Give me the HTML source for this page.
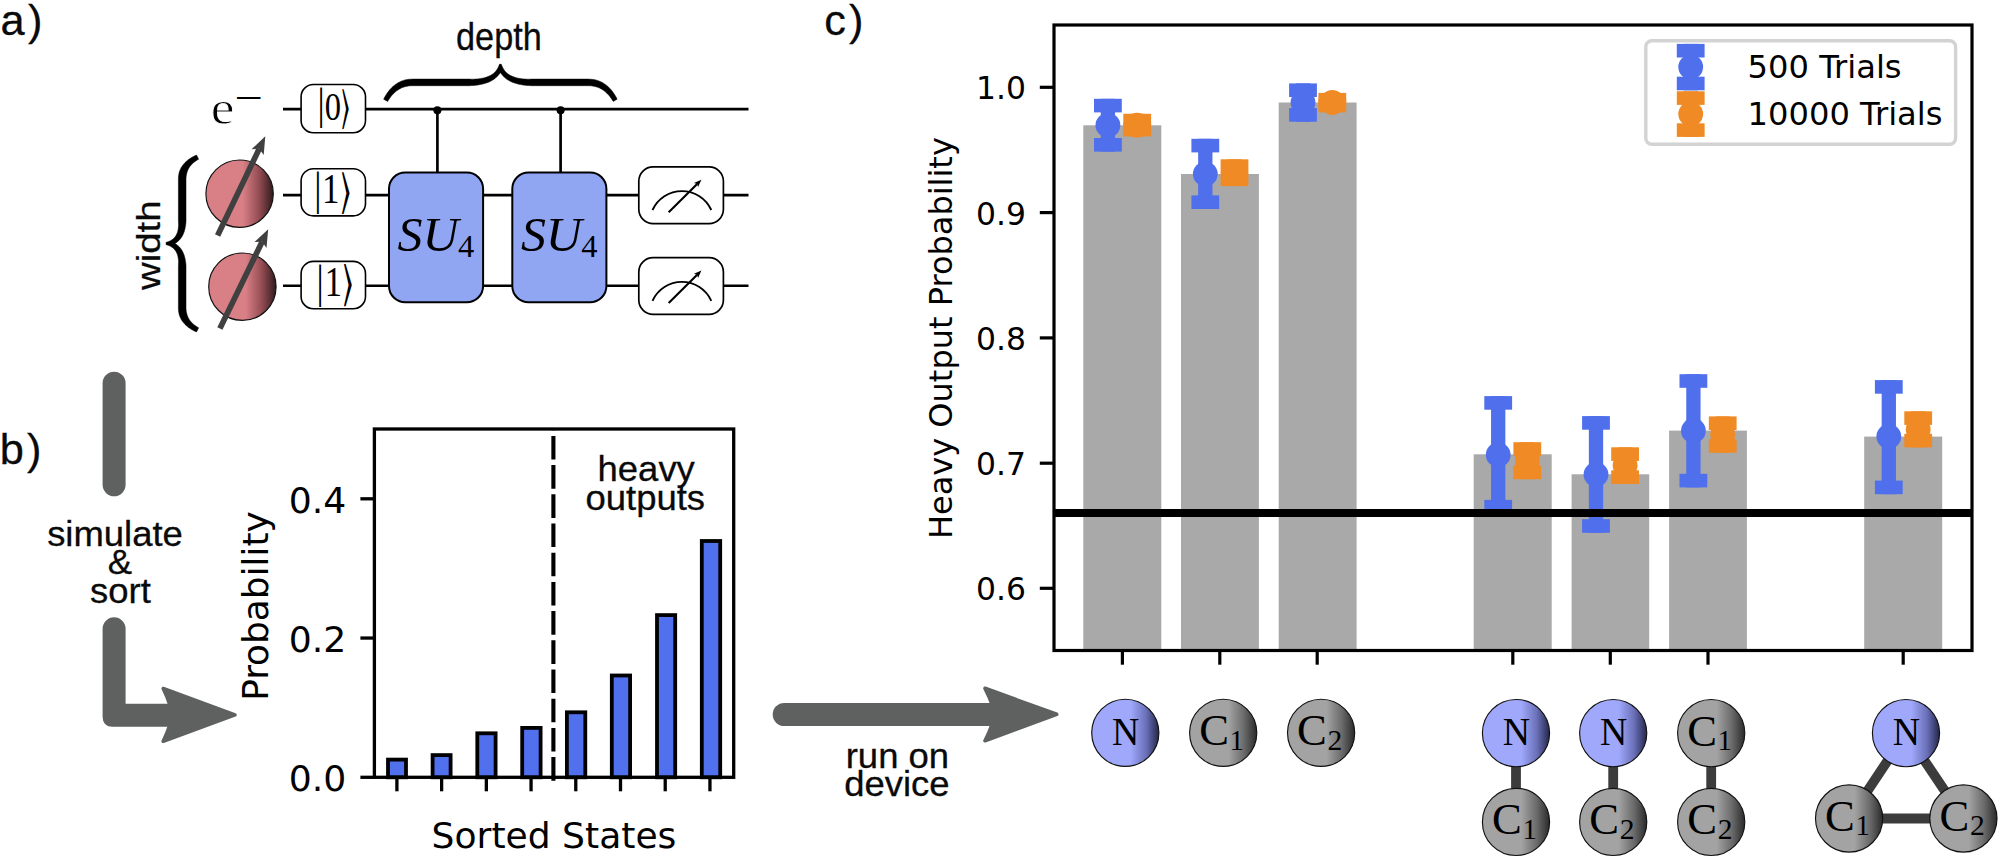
<!DOCTYPE html>
<html lang="en"><head><meta charset="utf-8"><title>Quantum volume figure</title>
<style>
html,body{margin:0;padding:0;background:#fff;}
body{width:2000px;height:859px;overflow:hidden;}
svg{display:block;}
.sans{font-family:"Liberation Sans", Arial, Helvetica, sans-serif;fill:#0a0a0a;stroke:#0a0a0a;stroke-width:0.3px;}
.djv{font-family:"DejaVu Sans", "Liberation Sans", sans-serif;fill:#000;}
.serif{font-family:"Liberation Serif", "DejaVu Serif", serif;fill:#000;}
.math{font-family:"DejaVu Math TeX Gyre","DejaVu Sans","DejaVu Serif",serif;fill:#000;}
</style></head><body>
<svg width="2000" height="859" viewBox="0 0 2000 859">
<defs>
<linearGradient id="gRed" x1="0" y1="0" x2="1" y2="0"><stop offset="0" stop-color="#d97f86"/><stop offset="0.55" stop-color="#d97f86"/><stop offset="0.8" stop-color="#8f4a50"/><stop offset="1" stop-color="#2e1a1c"/></linearGradient>
<linearGradient id="gBlue" x1="0" y1="0" x2="1" y2="0"><stop offset="0" stop-color="#9fa8fb"/><stop offset="0.58" stop-color="#9fa8fb"/><stop offset="0.81" stop-color="#6a70b8"/><stop offset="1" stop-color="#23264a"/></linearGradient>
<linearGradient id="gGray" x1="0" y1="0" x2="1" y2="0"><stop offset="0" stop-color="#a3a3a3"/><stop offset="0.58" stop-color="#a3a3a3"/><stop offset="0.81" stop-color="#6a6a6a"/><stop offset="1" stop-color="#2a2a2a"/></linearGradient>
</defs>
<rect x="0" y="0" width="2000" height="859" fill="#ffffff"/>
<text class="sans" font-size="43.3" x="0.5" y="34.5" dx="0 3.32">a)</text>
<text class="sans" font-size="43.3" x="-0.3" y="463.9" dx="0 3.12">b)</text>
<text class="sans" font-size="43.3" x="824.3" y="34.5" dx="0 3.15">c)</text>
<g stroke="#000" stroke-width="2.7" fill="none">
<path d="M283,109.05 H748.5"/>
<path d="M283,195.15 H748.5"/>
<path d="M283,285.75 H748.5"/>
</g>
<g stroke="#000" stroke-width="2.7" fill="none">
<path d="M437.4,109.05 V172"/>
<path d="M560.6,109.05 V172"/>
</g>
<circle cx="437.4" cy="110.2" r="4.0" fill="#000"/>
<circle cx="560.6" cy="110.2" r="4.0" fill="#000"/>
<rect x="301.1" y="84.5" width="64.4" height="48.20" rx="12.3" ry="12.3" fill="#fff" stroke="#000" stroke-width="1.6"/>
<text class="serif" x="0" y="9.56" font-size="40" text-anchor="middle" transform="translate(321.0 108.9) scale(0.9 1.093)">|</text>
<text class="serif" x="-0.00" y="0" font-size="41.04" text-anchor="middle" transform="translate(332.8 119.5) scale(0.793 1)">0</text>
<text class="math" x="0.63" y="12.87" font-size="46.8" text-anchor="middle" transform="translate(345.45 108.9) scale(0.487 1.008)">⟩</text>
<rect x="301.1" y="168.7" width="64.4" height="47.20" rx="12.3" ry="12.3" fill="#fff" stroke="#000" stroke-width="1.6"/>
<text class="serif" x="0" y="9.56" font-size="40" text-anchor="middle" transform="translate(317.8 192.85) scale(0.9 1.151)">|</text>
<text class="serif" x="-0.60" y="0" font-size="42.58" text-anchor="middle" transform="translate(331.15 203.4) scale(0.821 1)">1</text>
<text class="math" x="0.63" y="12.87" font-size="46.8" text-anchor="middle" transform="translate(345.65 192.85) scale(0.570 1.061)">⟩</text>
<rect x="301.1" y="261.4" width="64.4" height="47.30" rx="12.3" ry="12.3" fill="#fff" stroke="#000" stroke-width="1.6"/>
<text class="serif" x="0" y="9.56" font-size="40" text-anchor="middle" transform="translate(320.2 285.55) scale(0.9 1.157)">|</text>
<text class="serif" x="-0.60" y="0" font-size="43.03" text-anchor="middle" transform="translate(333.7 296.3) scale(0.799 1)">1</text>
<text class="math" x="0.63" y="12.87" font-size="46.8" text-anchor="middle" transform="translate(347.95 285.55) scale(0.585 1.066)">⟩</text>
<rect x="389.0" y="172.4" width="94.1" height="129.8" rx="16.3" ry="16.3" fill="#91a6f3" stroke="#000" stroke-width="2.0"/>
<text class="serif" y="251.4" font-size="48"><tspan x="397.60" font-style="italic" textLength="61" lengthAdjust="spacingAndGlyphs">SU</tspan><tspan x="458.00" y="257" font-size="32.5">4</tspan></text>
<rect x="512.3" y="172.4" width="94.1" height="129.8" rx="16.3" ry="16.3" fill="#91a6f3" stroke="#000" stroke-width="2.0"/>
<text class="serif" y="251.4" font-size="48"><tspan x="520.90" font-style="italic" textLength="61" lengthAdjust="spacingAndGlyphs">SU</tspan><tspan x="581.30" y="257" font-size="32.5">4</tspan></text>
<rect x="638.8" y="166.9" width="84.6" height="56.7" rx="14.3" ry="14.3" fill="#fff" stroke="#000" stroke-width="1.7"/>
<path d="M652.5,210.00 A32.3,32.3 0 0 1 711.3,210.00" fill="none" stroke="#000" stroke-width="1.9"/>
<path d="M668.70,212.30 L697.15,183.94" fill="none" stroke="#000" stroke-width="2.1"/>
<path d="M701.40,179.70 L698.07,187.12 L697.15,183.94 L693.97,183.01 Z" fill="#000"/>
<rect x="638.8" y="257.7" width="84.6" height="56.7" rx="14.3" ry="14.3" fill="#fff" stroke="#000" stroke-width="1.7"/>
<path d="M652.5,300.80 A32.3,32.3 0 0 1 711.3,300.80" fill="none" stroke="#000" stroke-width="1.9"/>
<path d="M668.70,303.10 L697.15,274.74" fill="none" stroke="#000" stroke-width="2.1"/>
<path d="M701.40,270.50 L698.07,277.92 L697.15,274.74 L693.97,273.81 Z" fill="#000"/>
<circle cx="239.6" cy="193.7" r="33.7" fill="url(#gRed)" stroke="#111" stroke-width="1.15"/>
<path d="M217.6,235.6 L259.2,148.8" stroke="#404040" stroke-width="5.7" fill="none"/>
<path d="M265.3,136.2 L263.7,155.0 L259.2,148.8 L251.6,149.2 Z" fill="#404040"/>
<circle cx="242.4" cy="286.7" r="33.7" fill="url(#gRed)" stroke="#111" stroke-width="1.15"/>
<path d="M219.9,328.5 L262.1,241.8" stroke="#404040" stroke-width="5.7" fill="none"/>
<path d="M268.2,229.2 L266.5,248.0 L262.1,241.8 L254.5,242.1 Z" fill="#404040"/>
<text class="serif" x="0" y="0" font-size="47.8" stroke="#fff" stroke-width="0.9" transform="translate(210.8 124.2) scale(1.12 1)">e</text>
<text class="serif" x="0" y="0" font-size="40" transform="translate(234.6 110.7) scale(1.26 1)">−</text>
<path transform="translate(383.6 64.7)" d="M0.06,34.49 L0.73,33.17 L1.45,31.84 L2.21,30.54 L3.01,29.27 L3.85,28.03 L4.73,26.82 L5.65,25.65 L6.62,24.52 L7.64,23.43 L8.70,22.38 L9.82,21.38 L10.98,20.43 L12.19,19.54 L13.46,18.70 L14.78,17.92 L16.16,17.20 L17.58,16.55 L19.06,15.97 L20.59,15.47 L22.18,15.08 L23.82,14.79 L25.50,14.57 L27.23,14.44 L29.00,14.40 L85.80,14.40 L87.92,14.47 L89.94,14.45 L91.88,14.38 L93.72,14.25 L95.48,14.06 L97.15,13.83 L98.74,13.54 L100.24,13.20 L101.67,12.82 L103.01,12.40 L104.28,11.92 L105.47,11.41 L106.59,10.86 L107.64,10.26 L108.62,9.63 L109.54,8.96 L110.39,8.24 L111.19,7.49 L111.93,6.70 L112.62,5.87 L113.25,4.99 L113.84,4.07 L114.37,3.11 L114.88,2.06 L116.08,-0.69 L116.80,-0.38 L116.80,7.70 L116.30,8.50 L115.51,9.61 L114.64,10.67 L113.70,11.70 L112.67,12.67 L111.58,13.60 L110.40,14.48 L109.15,15.30 L107.83,16.07 L106.42,16.79 L104.95,17.45 L103.39,18.05 L101.76,18.60 L100.05,19.09 L98.26,19.53 L96.39,19.91 L94.44,20.23 L92.41,20.50 L90.29,20.71 L88.09,20.88 L85.80,21.00 L29.00,21.00 L27.56,21.04 L26.16,21.14 L24.82,21.31 L23.53,21.54 L22.27,21.83 L21.05,22.14 L19.87,22.50 L18.71,22.92 L17.59,23.40 L16.50,23.94 L15.44,24.53 L14.41,25.18 L13.40,25.87 L12.42,26.63 L11.47,27.43 L10.54,28.28 L9.65,29.18 L8.77,30.13 L7.93,31.12 L7.11,32.16 L6.32,33.23 L5.55,34.35 L4.81,35.50 L4.08,36.71 Z M233.54,34.49 L232.87,33.17 L232.15,31.84 L231.39,30.54 L230.59,29.27 L229.75,28.03 L228.87,26.82 L227.95,25.65 L226.98,24.52 L225.96,23.43 L224.90,22.38 L223.78,21.38 L222.62,20.43 L221.41,19.54 L220.14,18.70 L218.82,17.92 L217.44,17.20 L216.02,16.55 L214.54,15.97 L213.01,15.47 L211.42,15.08 L209.78,14.79 L208.10,14.57 L206.37,14.44 L204.60,14.40 L147.80,14.40 L145.68,14.47 L143.66,14.45 L141.72,14.38 L139.88,14.25 L138.12,14.06 L136.45,13.83 L134.86,13.54 L133.36,13.20 L131.93,12.82 L130.59,12.40 L129.32,11.92 L128.13,11.41 L127.01,10.86 L125.96,10.26 L124.98,9.63 L124.06,8.96 L123.21,8.24 L122.41,7.49 L121.67,6.70 L120.98,5.87 L120.35,4.99 L119.76,4.07 L119.23,3.11 L118.72,2.06 L117.52,-0.69 L116.80,-0.38 L116.80,7.70 L117.30,8.50 L118.09,9.61 L118.96,10.67 L119.90,11.70 L120.93,12.67 L122.02,13.60 L123.20,14.48 L124.45,15.30 L125.77,16.07 L127.18,16.79 L128.65,17.45 L130.21,18.05 L131.84,18.60 L133.55,19.09 L135.34,19.53 L137.21,19.91 L139.16,20.23 L141.19,20.50 L143.31,20.71 L145.51,20.88 L147.80,21.00 L204.60,21.00 L206.04,21.04 L207.44,21.14 L208.78,21.31 L210.07,21.54 L211.33,21.83 L212.55,22.14 L213.73,22.50 L214.89,22.92 L216.01,23.40 L217.10,23.94 L218.16,24.53 L219.19,25.18 L220.20,25.87 L221.18,26.63 L222.13,27.43 L223.06,28.28 L223.95,29.18 L224.83,30.13 L225.67,31.12 L226.49,32.16 L227.28,33.23 L228.05,34.35 L228.79,35.50 L229.52,36.71 Z" fill="#000" stroke="#000" stroke-width="0.5" stroke-linejoin="round"/>
<path transform="translate(166.5 331.9) rotate(-90)" d="M0.01,30.08 L0.49,28.93 L1.02,27.76 L1.59,26.61 L2.20,25.48 L2.84,24.38 L3.53,23.31 L4.26,22.26 L5.03,21.24 L5.85,20.25 L6.72,19.30 L7.63,18.39 L8.59,17.52 L9.60,16.70 L10.66,15.92 L11.77,15.19 L12.94,14.52 L14.15,13.91 L15.42,13.36 L16.73,12.87 L18.11,12.52 L19.53,12.25 L20.98,12.06 L22.47,11.94 L24.00,11.90 L66.40,11.90 L67.84,12.01 L69.22,12.04 L70.54,12.02 L71.79,11.94 L72.98,11.83 L74.10,11.66 L75.17,11.46 L76.19,11.22 L77.14,10.94 L78.05,10.62 L78.90,10.26 L79.71,9.87 L80.47,9.45 L81.19,8.99 L81.87,8.49 L82.51,7.95 L83.12,7.38 L83.69,6.77 L84.23,6.12 L84.73,5.42 L85.20,4.69 L85.64,3.91 L86.04,3.10 L86.42,2.19 L87.44,-0.63 L88.40,-0.29 L88.40,8.41 L88.20,8.77 L87.60,9.73 L86.93,10.65 L86.20,11.54 L85.41,12.39 L84.56,13.19 L83.65,13.96 L82.68,14.68 L81.64,15.35 L80.55,15.97 L79.40,16.55 L78.19,17.07 L76.92,17.55 L75.59,17.97 L74.21,18.34 L72.77,18.66 L71.27,18.93 L69.70,19.16 L68.08,19.34 L66.40,19.50 L24.00,19.50 L22.87,19.53 L21.78,19.61 L20.73,19.75 L19.72,19.94 L18.75,20.17 L17.79,20.38 L16.86,20.64 L15.94,20.95 L15.06,21.31 L14.19,21.72 L13.34,22.17 L12.51,22.67 L11.70,23.22 L10.91,23.82 L10.14,24.46 L9.38,25.15 L8.65,25.88 L7.94,26.65 L7.25,27.47 L6.59,28.32 L5.94,29.21 L5.32,30.13 L4.72,31.09 L4.13,32.12 Z M176.79,30.08 L176.31,28.93 L175.78,27.76 L175.21,26.61 L174.60,25.48 L173.96,24.38 L173.27,23.31 L172.54,22.26 L171.77,21.24 L170.95,20.25 L170.08,19.30 L169.17,18.39 L168.21,17.52 L167.20,16.70 L166.14,15.92 L165.03,15.19 L163.86,14.52 L162.65,13.91 L161.38,13.36 L160.07,12.87 L158.69,12.52 L157.27,12.25 L155.82,12.06 L154.33,11.94 L152.80,11.90 L110.40,11.90 L108.96,12.01 L107.58,12.04 L106.26,12.02 L105.01,11.94 L103.82,11.83 L102.70,11.66 L101.63,11.46 L100.61,11.22 L99.66,10.94 L98.75,10.62 L97.90,10.26 L97.09,9.87 L96.33,9.45 L95.61,8.99 L94.93,8.49 L94.29,7.95 L93.68,7.38 L93.11,6.77 L92.57,6.12 L92.07,5.42 L91.60,4.69 L91.16,3.91 L90.76,3.10 L90.38,2.19 L89.36,-0.63 L88.40,-0.29 L88.40,8.41 L88.60,8.77 L89.20,9.73 L89.87,10.65 L90.60,11.54 L91.39,12.39 L92.24,13.19 L93.15,13.96 L94.12,14.68 L95.16,15.35 L96.25,15.97 L97.40,16.55 L98.61,17.07 L99.88,17.55 L101.21,17.97 L102.59,18.34 L104.03,18.66 L105.53,18.93 L107.10,19.16 L108.72,19.34 L110.40,19.50 L152.80,19.50 L153.93,19.53 L155.02,19.61 L156.07,19.75 L157.08,19.94 L158.05,20.17 L159.01,20.38 L159.94,20.64 L160.86,20.95 L161.74,21.31 L162.61,21.72 L163.46,22.17 L164.29,22.67 L165.10,23.22 L165.89,23.82 L166.66,24.46 L167.42,25.15 L168.15,25.88 L168.86,26.65 L169.55,27.47 L170.21,28.32 L170.86,29.21 L171.48,30.13 L172.08,31.09 L172.67,32.12 Z" fill="#000" stroke="#000" stroke-width="0.5" stroke-linejoin="round"/>
<text class="sans" font-size="38.6" text-anchor="middle" transform="translate(498.9 49.7) scale(0.887 1)">depth</text>
<text class="sans" font-size="38.4" text-anchor="middle" transform="translate(160 245.2) scale(0.887 1) rotate(-90)">width</text>
<path d="M114.1,383.2 V484.8" stroke="#5f6161" stroke-width="23" stroke-linecap="round" fill="none"/>
<path d="M102.6,628.8 A11.5,11.5 0 0 1 125.6,628.8 V703.8 H171 V726.7 H112.6 Q102.6,726.7 102.6,716.7 Z" fill="#5f6161"/>
<path d="M235.0,714.9 L163.2,688.5 Q167.4,697 169.9,705 L169.9,724.9 Q167.4,732.8 163.2,741.3 Z" fill="#5f6161" stroke="#5f6161" stroke-width="3.6" stroke-linejoin="round"/>
<path d="M784.2,714.5 H993" stroke="#5f6161" stroke-width="23" stroke-linecap="round" fill="none"/>
<path d="M1056.7,714.3 L985.0,688.3 Q989.4,696.8 992.2,704.8 L992.2,724 Q989.4,732 985.0,740.7 Z" fill="#5f6161" stroke="#5f6161" stroke-width="3.6" stroke-linejoin="round"/>
<text class="sans" font-size="35.5" text-anchor="middle" transform="translate(115 545.8) scale(1.027 1)">simulate</text>
<text class="sans" font-size="35.5" text-anchor="middle" transform="translate(120 574.3) scale(1.027 1)">&amp;</text>
<text class="sans" font-size="35.5" text-anchor="middle" transform="translate(120.4 602.9) scale(1.027 1)">sort</text>
<text class="sans" font-size="35.5" text-anchor="middle" transform="translate(897.4 767.5) scale(1.027 1)">run on</text>
<text class="sans" font-size="35.5" text-anchor="middle" transform="translate(896.9 795.5) scale(1.027 1)">device</text>
<text class="sans" font-size="35.5" text-anchor="middle" transform="translate(646.2 481.3) scale(1.027 1)">heavy</text>
<text class="sans" font-size="35.5" text-anchor="middle" transform="translate(645.3 509.8) scale(1.027 1)">outputs</text>
<g fill="#5070ee" stroke="#000" stroke-width="3.8">
<rect x="388.00" y="759.60" width="18.00" height="17.70"/>
<rect x="432.60" y="755.10" width="18.00" height="22.20"/>
<rect x="477.30" y="733.30" width="18.30" height="44.00"/>
<rect x="522.20" y="727.90" width="18.40" height="49.40"/>
<rect x="566.90" y="712.30" width="18.40" height="65.00"/>
<rect x="611.80" y="675.50" width="18.30" height="101.80"/>
<rect x="657.00" y="615.10" width="18.20" height="162.20"/>
<rect x="701.80" y="541.00" width="18.40" height="236.30"/>
</g>
<path d="M553.4,780.7 V429" stroke="#000" stroke-width="4.1" stroke-dasharray="23.6 5.6" fill="none"/>
<rect x="374.4" y="429.0" width="359.30000000000007" height="348.29999999999995" fill="none" stroke="#000" stroke-width="3.3"/>
<g stroke="#000" stroke-width="3.3" fill="none">
<path d="M396.90,777.3 V791.3"/>
<path d="M441.62,777.3 V791.3"/>
<path d="M486.34,777.3 V791.3"/>
<path d="M531.06,777.3 V791.3"/>
<path d="M575.78,777.3 V791.3"/>
<path d="M620.50,777.3 V791.3"/>
<path d="M665.22,777.3 V791.3"/>
<path d="M709.94,777.3 V791.3"/>
<path d="M374.4,498.8 H360.4"/>
<path d="M374.4,638.05 H360.4"/>
<path d="M374.4,777.3 H360.4"/>
</g>
<text class="djv" x="346.2" y="512.5" font-size="36.2" text-anchor="end">0.4</text>
<text class="djv" x="346.2" y="651.8" font-size="36.2" text-anchor="end">0.2</text>
<text class="djv" x="346.2" y="791.0" font-size="36.2" text-anchor="end">0.0</text>
<text class="djv" font-size="35.9" text-anchor="middle" transform="translate(267.6 606) rotate(-90)">Probability</text>
<text class="djv" x="554" y="847.8" font-size="36.1" text-anchor="middle">Sorted States</text>
<g fill="#a9a9a9">
<rect x="1083.3" y="125.3" width="78.0" height="525.2"/>
<rect x="1181.0" y="174.0" width="77.9" height="476.5"/>
<rect x="1278.7" y="102.5" width="77.9" height="548.0"/>
<rect x="1473.7" y="454.3" width="78.0" height="196.2"/>
<rect x="1571.6" y="474.3" width="77.6" height="176.2"/>
<rect x="1669.1" y="430.6" width="77.8" height="219.9"/>
<rect x="1864.2" y="436.6" width="78.0" height="213.9"/>
</g>
<g fill="#4f6fec">
<rect x="1100.75" y="98.80" width="14.3" height="52.80"/>
<rect x="1094.00" y="98.80" width="27.8" height="13.6"/>
<rect x="1094.00" y="138.00" width="27.8" height="13.6"/>
<circle cx="1107.90" cy="125.30" r="12.4"/>
</g>
<g fill="#f08a24">
<rect x="1130.05" y="113.80" width="14.3" height="22.60"/>
<rect x="1123.30" y="113.80" width="27.8" height="13.6"/>
<rect x="1123.30" y="122.80" width="27.8" height="13.6"/>
<circle cx="1137.20" cy="125.20" r="12.4"/>
</g>
<g fill="#4f6fec">
<rect x="1198.15" y="138.80" width="14.3" height="70.20"/>
<rect x="1191.40" y="138.80" width="27.8" height="13.6"/>
<rect x="1191.40" y="195.40" width="27.8" height="13.6"/>
<circle cx="1205.30" cy="174.10" r="12.4"/>
</g>
<g fill="#f08a24">
<rect x="1227.35" y="159.30" width="14.3" height="26.80"/>
<rect x="1220.60" y="159.30" width="27.8" height="13.6"/>
<rect x="1220.60" y="172.50" width="27.8" height="13.6"/>
<circle cx="1234.50" cy="172.70" r="12.4"/>
</g>
<g fill="#4f6fec">
<rect x="1295.85" y="83.40" width="14.3" height="38.30"/>
<rect x="1289.10" y="83.40" width="27.8" height="13.6"/>
<rect x="1289.10" y="108.10" width="27.8" height="13.6"/>
<circle cx="1303.00" cy="102.50" r="12.4"/>
</g>
<g fill="#f08a24">
<rect x="1325.15" y="92.90" width="14.3" height="19.50"/>
<rect x="1318.40" y="92.90" width="27.8" height="13.6"/>
<rect x="1318.40" y="98.80" width="27.8" height="13.6"/>
<circle cx="1332.30" cy="102.50" r="12.4"/>
</g>
<g fill="#4f6fec">
<rect x="1491.05" y="396.10" width="14.3" height="117.40"/>
<rect x="1484.30" y="396.10" width="27.8" height="13.6"/>
<rect x="1484.30" y="499.90" width="27.8" height="13.6"/>
<circle cx="1498.20" cy="454.80" r="12.4"/>
</g>
<g fill="#f08a24">
<rect x="1520.15" y="442.20" width="14.3" height="37.00"/>
<rect x="1513.40" y="442.20" width="27.8" height="13.6"/>
<rect x="1513.40" y="465.60" width="27.8" height="13.6"/>
<circle cx="1527.30" cy="460.70" r="12.4"/>
</g>
<g fill="#4f6fec">
<rect x="1588.85" y="416.10" width="14.3" height="116.70"/>
<rect x="1582.10" y="416.10" width="27.8" height="13.6"/>
<rect x="1582.10" y="519.20" width="27.8" height="13.6"/>
<circle cx="1596.00" cy="474.50" r="12.4"/>
</g>
<g fill="#f08a24">
<rect x="1617.95" y="447.30" width="14.3" height="36.60"/>
<rect x="1611.20" y="447.30" width="27.8" height="13.6"/>
<rect x="1611.20" y="470.30" width="27.8" height="13.6"/>
<circle cx="1625.10" cy="465.60" r="12.4"/>
</g>
<g fill="#4f6fec">
<rect x="1686.25" y="374.20" width="14.3" height="113.20"/>
<rect x="1679.50" y="374.20" width="27.8" height="13.6"/>
<rect x="1679.50" y="473.80" width="27.8" height="13.6"/>
<circle cx="1693.40" cy="430.70" r="12.4"/>
</g>
<g fill="#f08a24">
<rect x="1715.55" y="416.40" width="14.3" height="36.30"/>
<rect x="1708.80" y="416.40" width="27.8" height="13.6"/>
<rect x="1708.80" y="439.10" width="27.8" height="13.6"/>
<circle cx="1722.70" cy="434.50" r="12.4"/>
</g>
<g fill="#4f6fec">
<rect x="1881.65" y="380.10" width="14.3" height="114.10"/>
<rect x="1874.90" y="380.10" width="27.8" height="13.6"/>
<rect x="1874.90" y="480.60" width="27.8" height="13.6"/>
<circle cx="1888.80" cy="436.60" r="12.4"/>
</g>
<g fill="#f08a24">
<rect x="1911.05" y="411.30" width="14.3" height="36.10"/>
<rect x="1904.30" y="411.30" width="27.8" height="13.6"/>
<rect x="1904.30" y="433.80" width="27.8" height="13.6"/>
<circle cx="1918.20" cy="429.50" r="12.4"/>
</g>
<path d="M1054.0,513.1 H1972.0" stroke="#000" stroke-width="8" fill="none"/>
<rect x="1054.0" y="25.0" width="918.0" height="625.5" fill="none" stroke="#000" stroke-width="3.2"/>
<g stroke="#000" stroke-width="3.2" fill="none">
<path d="M1122.4,650.5 V664.7"/>
<path d="M1219.8,650.5 V664.7"/>
<path d="M1317.2,650.5 V664.7"/>
<path d="M1512.8,650.5 V664.7"/>
<path d="M1610.3,650.5 V664.7"/>
<path d="M1708.0,650.5 V664.7"/>
<path d="M1903.2,650.5 V664.7"/>
<path d="M1054.0,87.3 H1039.8"/>
<path d="M1054.0,212.6 H1039.8"/>
<path d="M1054.0,337.9 H1039.8"/>
<path d="M1054.0,463.2 H1039.8"/>
<path d="M1054.0,588.3 H1039.8"/>
</g>
<text class="djv" x="1026" y="99.4" font-size="31.4" text-anchor="end">1.0</text>
<text class="djv" x="1026" y="224.7" font-size="31.4" text-anchor="end">0.9</text>
<text class="djv" x="1026" y="350.0" font-size="31.4" text-anchor="end">0.8</text>
<text class="djv" x="1026" y="475.3" font-size="31.4" text-anchor="end">0.7</text>
<text class="djv" x="1026" y="600.4" font-size="31.4" text-anchor="end">0.6</text>
<text class="djv" font-size="32.0" text-anchor="middle" transform="translate(952.3 338.1) rotate(-90)">Heavy Output Probability</text>
<rect x="1645.8" y="40.7" width="309.8" height="103.6" rx="6" ry="6" fill="#fff" fill-opacity="0.8" stroke="#d3d3d3" stroke-width="3.4"/>
<g fill="#4f6fec">
<rect x="1683.55" y="43.90" width="14.3" height="46.40"/>
<rect x="1676.80" y="43.90" width="27.8" height="13.6"/>
<rect x="1676.80" y="76.70" width="27.8" height="13.6"/>
<circle cx="1690.70" cy="67.10" r="12.4"/>
</g>
<g fill="#f08a24">
<rect x="1683.55" y="91.30" width="14.3" height="45.60"/>
<rect x="1676.80" y="91.30" width="27.8" height="13.6"/>
<rect x="1676.80" y="123.30" width="27.8" height="13.6"/>
<circle cx="1690.70" cy="114.10" r="12.4"/>
</g>
<text class="djv" x="1747.6" y="78" font-size="32.15">500 Trials</text>
<text class="djv" x="1747.6" y="124.5" font-size="32.15">10000 Trials</text>
<circle cx="1125.3" cy="732.8" r="33.6" fill="url(#gBlue)" stroke="#111" stroke-width="1.15"/>
<text class="serif" x="0" y="0" font-size="40.2" transform="translate(1112.10 744.80) scale(0.94 1)">N</text>
<circle cx="1223.2" cy="732.8" r="33.6" fill="url(#gGray)" stroke="#111" stroke-width="1.15"/>
<text class="serif" x="1199.20" y="745.20" font-size="44.6">C<tspan x="1229.60" y="749.60" font-size="28.8">1</tspan></text>
<circle cx="1321.1" cy="732.8" r="33.6" fill="url(#gGray)" stroke="#111" stroke-width="1.15"/>
<text class="serif" x="1297.10" y="745.20" font-size="44.6">C<tspan x="1327.60" y="749.70" font-size="29.6">2</tspan></text>
<path d="M1516.0,733 L1516.0,822" stroke="#3c3c3c" stroke-width="9.8" fill="none"/>
<circle cx="1516.0" cy="733.1" r="33.6" fill="url(#gBlue)" stroke="#111" stroke-width="1.15"/>
<text class="serif" x="0" y="0" font-size="40.2" transform="translate(1502.80 745.10) scale(0.94 1)">N</text>
<circle cx="1516.0" cy="821.9" r="33.6" fill="url(#gGray)" stroke="#111" stroke-width="1.15"/>
<text class="serif" x="1492.00" y="834.30" font-size="44.6">C<tspan x="1522.40" y="838.70" font-size="28.8">1</tspan></text>
<path d="M1613.2,733 L1613.2,822" stroke="#3c3c3c" stroke-width="9.8" fill="none"/>
<circle cx="1613.2" cy="733.1" r="33.6" fill="url(#gBlue)" stroke="#111" stroke-width="1.15"/>
<text class="serif" x="0" y="0" font-size="40.2" transform="translate(1600.00 745.10) scale(0.94 1)">N</text>
<circle cx="1613.2" cy="821.9" r="33.6" fill="url(#gGray)" stroke="#111" stroke-width="1.15"/>
<text class="serif" x="1589.20" y="834.30" font-size="44.6">C<tspan x="1619.70" y="838.80" font-size="29.6">2</tspan></text>
<path d="M1711.2,733 L1711.2,822" stroke="#3c3c3c" stroke-width="9.8" fill="none"/>
<circle cx="1711.2" cy="733.1" r="33.6" fill="url(#gGray)" stroke="#111" stroke-width="1.15"/>
<text class="serif" x="1687.20" y="745.50" font-size="44.6">C<tspan x="1717.60" y="749.90" font-size="28.8">1</tspan></text>
<circle cx="1711.2" cy="821.9" r="33.6" fill="url(#gGray)" stroke="#111" stroke-width="1.15"/>
<text class="serif" x="1687.20" y="834.30" font-size="44.6">C<tspan x="1717.70" y="838.80" font-size="29.6">2</tspan></text>
<path d="M1906.0,733.1 L1849.1,818.5" stroke="#3c3c3c" stroke-width="9.8" fill="none"/>
<path d="M1906.0,733.1 L1963.4,818.5" stroke="#3c3c3c" stroke-width="9.8" fill="none"/>
<path d="M1849.1,818.5 L1963.4,818.5" stroke="#3c3c3c" stroke-width="9.8" fill="none"/>
<circle cx="1906.0" cy="733.1" r="33.6" fill="url(#gBlue)" stroke="#111" stroke-width="1.15"/>
<text class="serif" x="0" y="0" font-size="40.2" transform="translate(1892.80 745.10) scale(0.94 1)">N</text>
<circle cx="1849.1" cy="818.5" r="33.6" fill="url(#gGray)" stroke="#111" stroke-width="1.15"/>
<text class="serif" x="1825.10" y="830.90" font-size="44.6">C<tspan x="1855.50" y="835.30" font-size="28.8">1</tspan></text>
<circle cx="1963.4" cy="818.5" r="33.6" fill="url(#gGray)" stroke="#111" stroke-width="1.15"/>
<text class="serif" x="1939.40" y="830.90" font-size="44.6">C<tspan x="1969.90" y="835.40" font-size="29.6">2</tspan></text>
</svg>
</body></html>
